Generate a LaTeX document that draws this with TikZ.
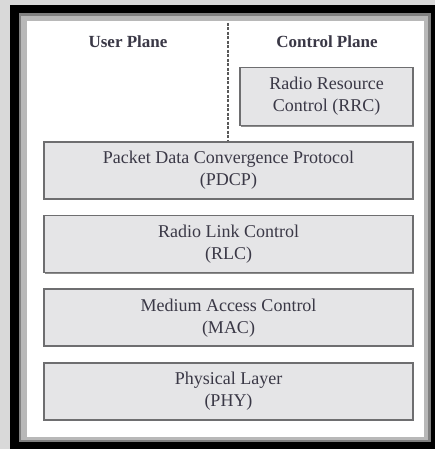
\documentclass[tikz,border=0pt]{standalone}
\usepackage{fontspec}
\setmainfont{Liberation Serif}
\usetikzlibrary{positioning, shadows}
\usepackage{xcolor}
\definecolor{pagegray}{RGB}{217, 217, 217}
\definecolor{boxfill}{RGB}{229, 229, 231}
\definecolor{boxline}{RGB}{110, 110, 112}
\definecolor{textdark}{RGB}{58, 56, 70}
\tikzset{
    layer box/.style={
        rectangle,
        draw=boxline,
        line width=1.6pt,
        fill=boxfill,
        minimum width=369pt,
        minimum height=57pt,
        inner sep=0pt,
        align=center,
        text=textdark,
        font=\fontsize{18}{22}\selectfont,
        drop shadow={shadow xshift=1.2pt, shadow yshift=-1.2pt, fill=black!45, opacity=1}
    },
    plane label/.style={
        font=\fontsize{17}{20}\selectfont\bfseries,
        text=textdark
    },
    plane divider/.style={
        draw=black!65,
        line width=1.8pt,
        dash pattern=on 3pt off 1.5pt
    }
}

\begin{document}
\begin{tikzpicture}[x=1pt, y=-1pt, node distance=15pt]

% Page background and frame
\useasboundingbox (0,0) rectangle (435,449);
\fill[pagegray] (0,0) rectangle (435,449);
\fill[black] (10,5) rectangle (435,449);
\fill[black!50] (19,13) rectangle (431,442);
\fill[black!28] (21,16) rectangle (428,440);
\fill[white] (27,21) rectangle (424,437);

% Plane headings
\node[plane label] (userplane) at (128,42) {User Plane};
\node[plane label] (ctrlplane) at (327,42) {Control Plane};

% Protocol stack
\node[layer box] (pdcp) at (228.5,170.5) {Packet Data Convergence Protocol\\(PDCP)};
\node[layer box, below=of pdcp] (rlc) {Radio Link Control\\(RLC)};
\node[layer box, below=of rlc] (mac) {Medium Access Control\\(MAC)};
\node[layer box, below=of mac] (phy) {Physical Layer\\(PHY)};

% Control plane only
\node[layer box, minimum width=173pt, minimum height=58pt,
      above left=15pt and 0pt of pdcp.north east] (rrc) {Radio Resource\\Control (RRC)};

% User / control divider
\coordinate (divtop) at (228,23);
\draw[plane divider] (divtop) -- (divtop |- pdcp.north);

\end{tikzpicture}
\end{document}
